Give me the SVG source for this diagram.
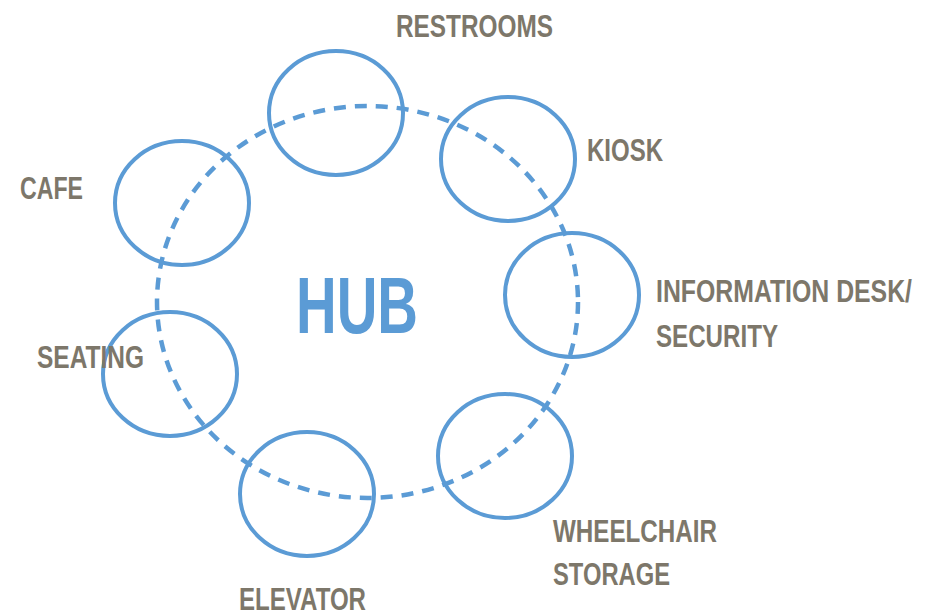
<svg xmlns="http://www.w3.org/2000/svg" width="925" height="616" viewBox="0 0 925 616">
<style>
.n{fill:none;stroke:#5b9bd5;stroke-width:4}
.hub{fill:none;stroke:#5b9bd5;stroke-width:4.5;stroke-dasharray:12 9}
.l{font-family:"Liberation Sans",Arial,sans-serif;font-weight:bold;font-size:31px;fill:#7d776a}
.h{font-family:"Liberation Sans",Arial,sans-serif;font-weight:bold;font-size:80px;fill:#5b9bd5}
</style>
<rect width="925" height="616" fill="#ffffff"/>
<g id="connectors">
<ellipse class="hub" cx="367.5" cy="302" rx="210.5" ry="196"/>
</g>
<g id="hub"><text class="h" x="296" y="333" textLength="122" lengthAdjust="spacingAndGlyphs">HUB</text></g>
<g id="restrooms"><ellipse class="n" cx="336" cy="113" rx="67" ry="62"/><text class="l" x="396" y="37" textLength="157" lengthAdjust="spacingAndGlyphs">RESTROOMS</text></g>
<g id="kiosk"><ellipse class="n" cx="508" cy="159" rx="67" ry="62"/><text class="l" x="587" y="161" textLength="76" lengthAdjust="spacingAndGlyphs">KIOSK</text></g>
<g id="cafe"><ellipse class="n" cx="182" cy="203" rx="67" ry="62"/><text class="l" x="20" y="199" textLength="63" lengthAdjust="spacingAndGlyphs">CAFE</text></g>
<g id="seating"><ellipse class="n" cx="170" cy="374" rx="67" ry="62"/><text class="l" x="37" y="368" textLength="107" lengthAdjust="spacingAndGlyphs">SEATING</text></g>
<g id="information"><ellipse class="n" cx="572" cy="295" rx="67" ry="62"/><text class="l" transform="translate(656 302) scale(0.8 1)" x="0" y="0" textLength="320" lengthAdjust="spacingAndGlyphs">INFORMATION DESK/</text><text class="l" x="656" y="347" textLength="122" lengthAdjust="spacingAndGlyphs">SECURITY</text></g>
<g id="elevator"><ellipse class="n" cx="307" cy="494" rx="67" ry="62"/><text class="l" x="239" y="610" textLength="127" lengthAdjust="spacingAndGlyphs">ELEVATOR</text></g>
<g id="wheelchair"><ellipse class="n" cx="505" cy="456" rx="67" ry="62"/><text class="l" x="553" y="542" textLength="164" lengthAdjust="spacingAndGlyphs">WHEELCHAIR</text><text class="l" x="553" y="585" textLength="117" lengthAdjust="spacingAndGlyphs">STORAGE</text></g>
</svg>
